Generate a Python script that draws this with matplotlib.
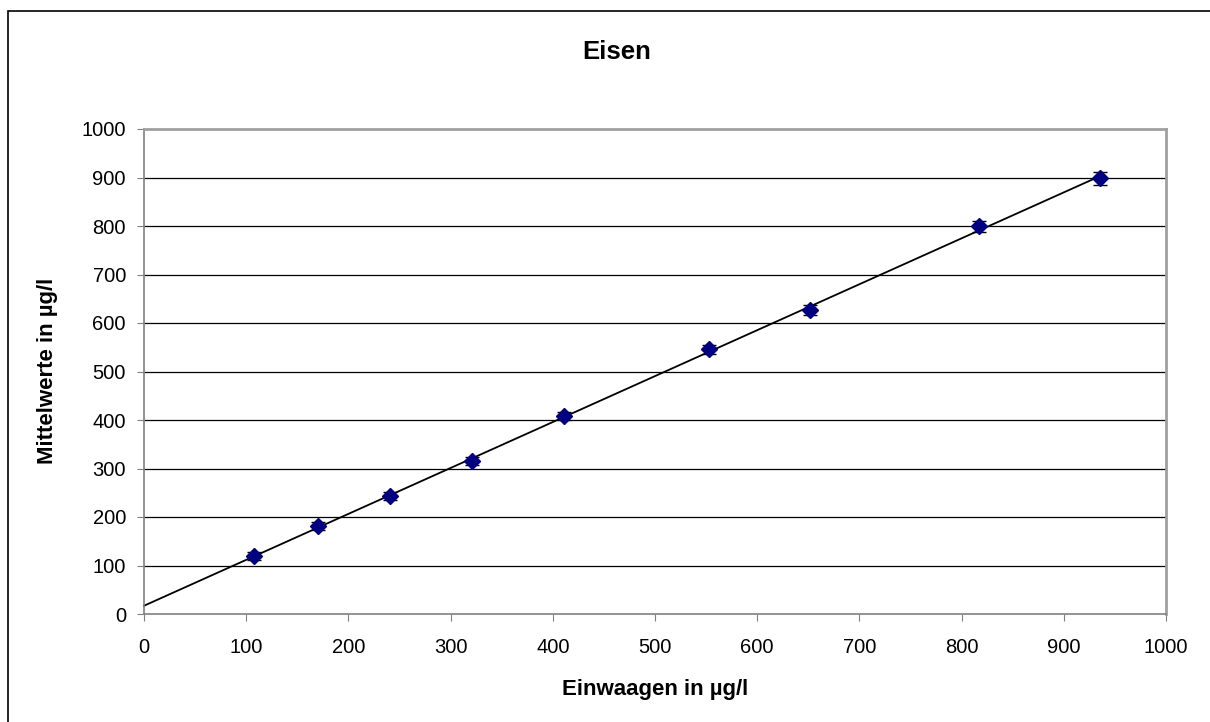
import matplotlib
matplotlib.use("Agg")
import matplotlib.pyplot as plt
import numpy as np
from matplotlib.patches import Rectangle

plt.rcParams['font.family'] = ['Liberation Sans', 'DejaVu Sans']

# data
einwaagen = [108, 170, 241, 321, 411, 553, 652, 817, 935]
mittelwerte = [119, 181, 244, 316, 408, 546, 627, 799, 898]
fehler = [8, 8, 8, 8, 8, 9, 10, 12, 14]
ticks = list(range(0, 1001, 100))

fig = plt.figure(figsize=(12.1, 7.22), dpi=100)
# outer chart frame (clipped at right/bottom like the reference)
fig.patches.append(Rectangle((8 / 1210, -0.01), 1.2, 1 - 11 / 722 + 0.01,
                             transform=fig.transFigure, fill=False,
                             edgecolor='black', linewidth=1.2))

ax = fig.add_axes([144 / 1210, 1 - 614 / 722, (1166 - 144) / 1210, (614 - 129) / 722])
ax.set_xlim(0, 1000)
ax.set_ylim(0, 1000)
ax.set_xticks(ticks)
ax.set_yticks(ticks)
ax.tick_params(labelsize=14.5, direction='out', length=5, color='#808080')
ax.tick_params(axis='x', pad=12)
ax.tick_params(axis='y', pad=8)

for y in ticks[1:-1]:
    ax.axhline(y, color='black', linewidth=0.9, zorder=1)

for s in ['left', 'bottom']:
    ax.spines[s].set_color('#808080')
    ax.spines[s].set_linewidth(1.2)
for s in ['top', 'right']:
    ax.spines[s].set_color('#a0a0a0')
    ax.spines[s].set_linewidth(2)

# linear trendline
k, d = np.polyfit(einwaagen, mittelwerte, 1)
xs = np.array([0, max(einwaagen)])
ax.plot(xs, k * xs + d, color='black', linewidth=1.3, zorder=2, clip_on=False)

ax.errorbar(einwaagen, mittelwerte, yerr=fehler, fmt='D', color='#000080',
            markersize=8, ecolor='black', elinewidth=1, capsize=5, capthick=1,
            zorder=3)

fig.text(617 / 1210, 1 - 52 / 722, 'Eisen', ha='center', va='center',
         fontsize=18.5, fontweight='bold')
fig.text(655 / 1210, 1 - 689 / 722, 'Einwaagen in µg/l', ha='center', va='center',
         fontsize=16, fontweight='bold')
fig.text(48 / 1210, 1 - 371 / 722, 'Mittelwerte in µg/l', ha='center', va='center',
         rotation=90, fontsize=16, fontweight='bold')

fig.savefig('out.png', dpi=100)
